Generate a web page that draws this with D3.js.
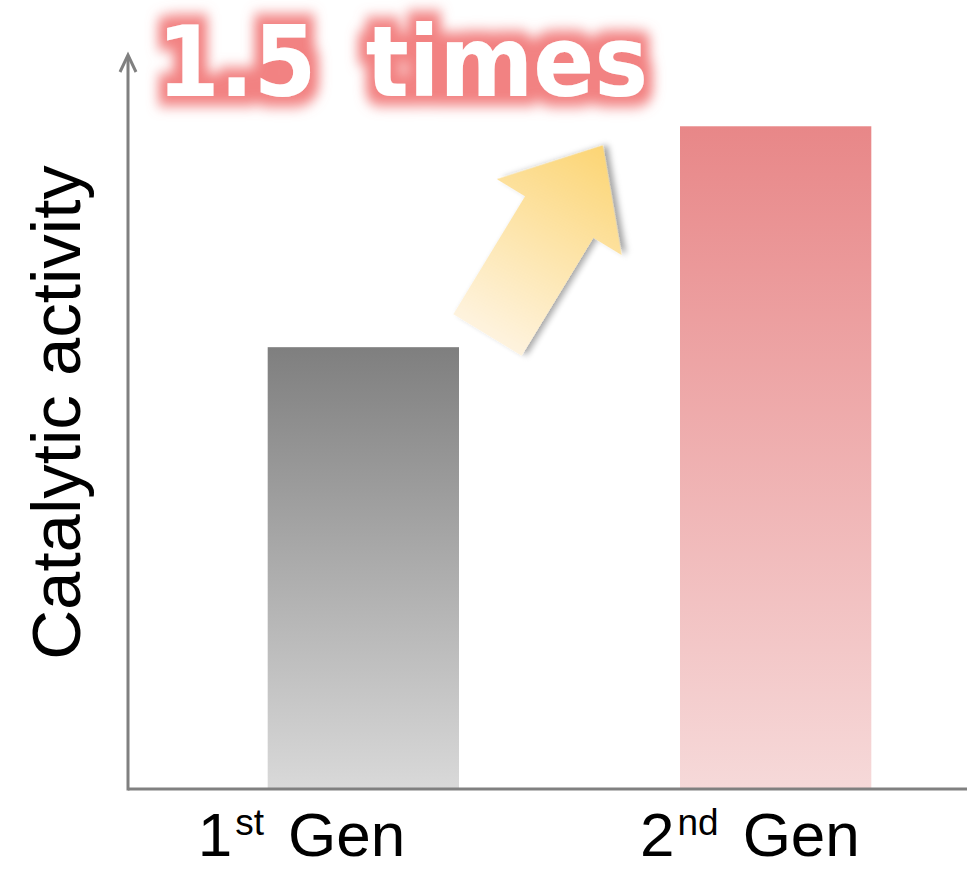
<!DOCTYPE html>
<html>
<head>
<meta charset="utf-8">
<script src="https://cdn.jsdelivr.net/npm/d3@7"></script>
<style>
  html, body { margin: 0; padding: 0; background: #ffffff; }
  svg { display: block; }
</style>
</head>
<body>
<svg id="chart" width="967" height="870"></svg>
<script>
// Generations compared and their relative catalytic activity
const genNumbers = ["1", "2"];
const genSuffixes = ["st", "nd"];
const genWord = "Gen";
const activity = [1.0, 1.5];
const yAxisTitle = "Catalytic activity";

const svg = d3.select("#chart");
const W = 967, H = 870;
const axisColor = "#808080";
const baseY = 789, axisX = 128;

const x = d3.scaleBand()
  .domain(genNumbers)
  .range([144, 995])
  .paddingInner(0.536)
  .paddingOuter(0.3);

const y = d3.scaleLinear()
  .domain([0, 1.65])
  .range([baseY, 60]);

const defs = svg.append("defs");

// vertical fades for the two bars
const barFades = [
  { id: "fade0", top: "#7f7f7f", bottom: "#d9d9d9" },
  { id: "fade1", top: "#e88788", bottom: "#f6d9d9" }
];
barFades.forEach(f => {
  const g = defs.append("linearGradient").attr("id", f.id)
    .attr("x1", 0).attr("y1", 0).attr("x2", 0).attr("y2", 1);
  g.append("stop").attr("offset", "0%").attr("stop-color", f.top);
  g.append("stop").attr("offset", "100%").attr("stop-color", f.bottom);
});

// yellow fill for the growth arrow (tail pale, head saturated)
const arrowFade = defs.append("linearGradient").attr("id", "arrowFade")
  .attr("x1", 0).attr("y1", 0).attr("x2", 1).attr("y2", 0);
arrowFade.append("stop").attr("offset", "0%").attr("stop-color", "#fef3de");
arrowFade.append("stop").attr("offset", "100%").attr("stop-color", "#fcd574");

const shadow = defs.append("filter").attr("id", "shadow")
  .attr("x", "-30%").attr("y", "-30%").attr("width", "160%").attr("height", "160%");
shadow.append("feDropShadow")
  .attr("dx", 3).attr("dy", 4).attr("stdDeviation", 3)
  .attr("flood-color", "#000").attr("flood-opacity", 0.35);

// pink halo around the headline
const glow = defs.append("filter").attr("id", "glow")
  .attr("x", "-20%").attr("y", "-60%").attr("width", "140%").attr("height", "220%");
glow.append("feMorphology").attr("in", "SourceAlpha")
  .attr("operator", "dilate").attr("radius", 9).attr("result", "dil");
glow.append("feGaussianBlur").attr("in", "dil").attr("stdDeviation", 6).attr("result", "blur");
glow.append("feFlood").attr("flood-color", "#f28282").attr("result", "col");
glow.append("feComposite").attr("in", "col").attr("in2", "blur")
  .attr("operator", "in").attr("result", "halo");
const merge = glow.append("feMerge");
merge.append("feMergeNode").attr("in", "halo");
merge.append("feMergeNode").attr("in", "SourceGraphic");

// bars
svg.append("g").selectAll("rect")
  .data(activity)
  .join("rect")
  .attr("x", (d, i) => x(genNumbers[i]))
  .attr("y", d => y(d))
  .attr("width", x.bandwidth())
  .attr("height", d => y(0) - y(d))
  .attr("fill", (d, i) => `url(#fade${i})`);

// axes
svg.append("line")
  .attr("x1", axisX).attr("x2", W)
  .attr("y1", baseY).attr("y2", baseY)
  .attr("stroke", axisColor).attr("stroke-width", 3);
svg.append("line")
  .attr("x1", axisX).attr("x2", axisX)
  .attr("y1", baseY + 1.5).attr("y2", y(1.65) - 4)
  .attr("stroke", axisColor).attr("stroke-width", 3);
const tipY = y(1.65) - 5;
svg.append("path")
  .attr("d", `M${axisX - 8},${tipY + 17} L${axisX},${tipY} L${axisX + 8},${tipY + 17}`)
  .attr("fill", "none").attr("stroke", axisColor)
  .attr("stroke-width", 3).attr("stroke-linejoin", "miter");

// y-axis title
svg.append("text")
  .attr("transform", `translate(80, ${(y(0) + y(1.65)) / 2 - 12}) rotate(-90)`)
  .attr("text-anchor", "middle")
  .attr("font-family", "Liberation Sans, Arial, sans-serif")
  .attr("font-size", 69)
  .attr("fill", "#000")
  .text(yAxisTitle);

// category labels with superscript ordinals
const labelShift = [-70, -40];
const labels = svg.append("g").selectAll("text")
  .data(genNumbers)
  .join("text")
  .attr("x", (d, i) => x(d) + labelShift[i])
  .attr("y", 856)
  .attr("font-family", "Liberation Sans, Arial, sans-serif")
  .attr("font-size", 62)
  .attr("fill", "#000");
labels.append("tspan").text(d => d);
labels.append("tspan")
  .attr("font-size", 37)
  .attr("dy", -21)
  .attr("dx", 3)
  .text((d, i) => genSuffixes[i]);
labels.append("tspan")
  .attr("dy", 21)
  .attr("dx", 24)
  .text(genWord);

// growth arrow between the bars
const arrowShape = [[0, -40], [138, -40], [138, -73], [222, 0], [138, 73], [138, 40], [0, 40]];
svg.append("path")
  .attr("transform", "translate(487.5,335) rotate(-58.7)")
  .attr("d", d3.line()(arrowShape) + "Z")
  .attr("fill", "url(#arrowFade)")
  .attr("filter", "url(#shadow)");

// headline with the improvement factor
const ratio = activity[1] / activity[0];
svg.append("text")
  .attr("transform", "translate(157,96) scale(1,1.08)")
  .attr("font-family", "DejaVu Sans, Verdana, sans-serif")
  .attr("font-weight", "bold")
  .attr("font-size", 90)
  .attr("word-spacing", 18)
  .attr("fill", "#ffffff")
  .attr("filter", "url(#glow)")
  .text(`${d3.format(".1f")(ratio)} times`);
</script>
</body>
</html>
